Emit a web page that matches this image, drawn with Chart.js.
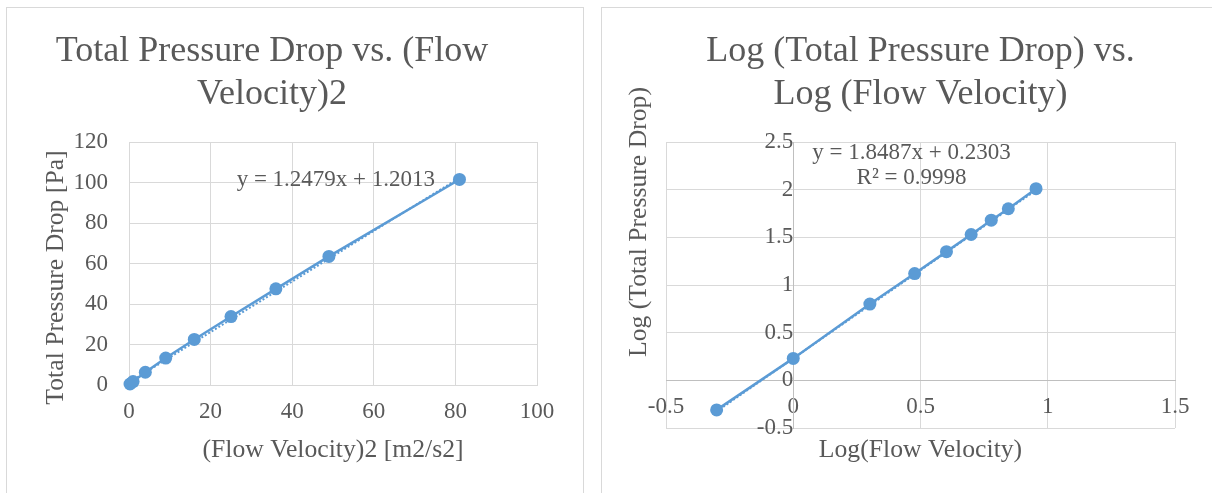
<!DOCTYPE html>
<html>
<head>
<meta charset="utf-8">
<script src="https://cdn.jsdelivr.net/npm/chart.js@4.4.1/dist/chart.umd.min.js"></script>
<style>
  html, body { margin: 0; padding: 0; background: #fff; overflow: hidden; width: 1212px; height: 493px; }
  .card { position: absolute; box-sizing: border-box; border: 1px solid #d9d9d9; }
  canvas { position: absolute; }
</style>
</head>
<body>
<div class="card" style="left:6px;top:7px;width:578px;height:540px"></div>
<div class="card" style="left:601px;top:7px;width:640px;height:540px"></div>
<canvas id="linChart" width="576" height="485" style="left:7px;top:8px"></canvas>
<canvas id="logChart" width="610" height="485" style="left:602px;top:8px"></canvas>
<script>
// velocity squared vs pressure drop (left chart)
const velSquared = [0.25, 1, 4, 9, 16, 25, 36, 49, 81];
const pressureDrop = [0.49, 1.7, 6.3, 13.3, 22.5, 33.8, 47.5, 63.5, 101.5];
const linTrendX = [0.25, 81];
const linTrendY = [1.51, 102.3];

// log-log values (right chart)
const logVelocity = [-0.301, 0, 0.301, 0.477, 0.602, 0.699, 0.778, 0.845, 0.954];
const logPressure = [-0.31, 0.23, 0.80, 1.12, 1.35, 1.53, 1.68, 1.80, 2.01];
const logTrendX = [-0.301, 0.954];
const logTrendY = [-0.326, 1.994];

const BLUE = '#5b9bd5';
const TEXT = '#595959';
const GRID = '#d9d9d9';
const SERIF = '"Liberation Serif", "Times New Roman", serif';

Chart.defaults.font.family = SERIF;
Chart.defaults.color = TEXT;

const toPoints = (xs, ys) => xs.map((x, i) => ({ x: x, y: ys[i] }));
// excel shows 2 and 1, not 2.0 and 1.0
const plainTick = v => String(Math.round(v * 10) / 10);

// draws axis titles and the trendline equation, Excel style
const excelText = {
    id: 'excelText',
    afterDraw(chart, args, opts) {
        const { ctx, chartArea: a, scales } = chart;
        ctx.save();
        ctx.fillStyle = TEXT;
        ctx.textAlign = 'center';
        ctx.textBaseline = 'middle';
        ctx.font = '25.7px ' + SERIF;
        ctx.fillText(opts.xTitle, (a.left + a.right) / 2, a.bottom + opts.xGap);

        ctx.save();
        ctx.translate(a.left - opts.yGap, (a.top + a.bottom) / 2 + opts.yShift);
        ctx.rotate(-Math.PI / 2);
        ctx.fillText(opts.yTitle, 0, 0);
        ctx.restore();

        ctx.font = '23px ' + SERIF;
        const ex = scales.x.getPixelForValue(opts.eqAt[0]);
        const ey = scales.y.getPixelForValue(opts.eqAt[1]);
        opts.equation.forEach((line, i) => ctx.fillText(line, ex, ey + i * 25));
        ctx.restore();
    }
};

function seriesSets(xs, ys, tx, ty) {
    return [{
        data: toPoints(xs, ys),
        showLine: true,
        clip: false,
        borderColor: BLUE,
        backgroundColor: BLUE,
        borderWidth: 2.5,
        pointRadius: 6.5,
        pointBorderWidth: 0
    }, {
        data: toPoints(tx, ty),
        showLine: true,
        borderColor: BLUE,
        borderWidth: 2,
        borderDash: [2, 2],
        pointRadius: 0
    }];
}

function titleOpts(lines) {
    return {
        display: true,
        text: lines,
        color: TEXT,
        font: { size: 36, weight: 'normal', lineHeight: 1.2 },
        padding: { top: 21.5, bottom: 26.1 }
    };
}

const tickFont = { size: 23, lineHeight: 1.2 };

new Chart(document.getElementById('linChart'), {
    type: 'scatter',
    data: { datasets: seriesSets(velSquared, pressureDrop, linTrendX, linTrendY) },
    options: {
        responsive: false,
        animation: false,
        layout: { padding: { left: 0, right: 46, top: 0, bottom: 0 } },
        plugins: {
            legend: { display: false },
            tooltip: { enabled: false },
            title: titleOpts(['Total Pressure Drop vs. (Flow', 'Velocity)2']),
            excelText: {
                xTitle: '(Flow Velocity)2 [m2/s2]', xGap: 65,
                yTitle: 'Total Pressure Drop [Pa]', yGap: 73, yShift: 14,
                equation: ['y = 1.2479x + 1.2013'], eqAt: [50.7, 101.2]
            }
        },
        scales: {
            x: {
                min: 0, max: 100,
                ticks: { stepSize: 20, padding: 13, font: tickFont, maxRotation: 0 },
                grid: { color: GRID, drawTicks: false },
                border: { color: GRID },
                afterFit: s => { s.height = 108; }
            },
            y: {
                min: 0, max: 120,
                ticks: { stepSize: 20, padding: 21, font: tickFont },
                grid: { color: GRID, drawTicks: false },
                border: { color: GRID },
                afterFit: s => { s.width = 122; }
            }
        }
    },
    plugins: [excelText]
});

new Chart(document.getElementById('logChart'), {
    type: 'scatter',
    data: { datasets: seriesSets(logVelocity, logPressure, logTrendX, logTrendY) },
    options: {
        responsive: false,
        animation: false,
        layout: { padding: { left: 64, right: 37, top: 0, bottom: 65 } },
        plugins: {
            legend: { display: false },
            tooltip: { enabled: false },
            title: titleOpts(['Log (Total Pressure Drop) vs.', 'Log (Flow Velocity)']),
            excelText: {
                xTitle: 'Log(Flow Velocity)', xGap: 22,
                yTitle: 'Log (Total Pressure Drop)', yGap: 27, yShift: -63,
                equation: ['y = 1.8487x + 0.2303', 'R\u00b2 = 0.9998'], eqAt: [0.465, 2.38]
            }
        },
        scales: {
            x: {
                min: -0.5, max: 1.5,
                position: { y: 0 },
                ticks: { stepSize: 0.5, padding: 13, font: tickFont, maxRotation: 0, callback: plainTick },
                grid: { color: GRID, drawTicks: false },
                border: { color: '#bfbfbf' }
            },
            y: {
                min: -0.5, max: 2.5,
                position: { x: 0 },
                ticks: { stepSize: 0.5, padding: 21, font: tickFont, callback: plainTick },
                grid: { color: GRID, drawTicks: false },
                border: { color: '#bfbfbf' }
            }
        }
    },
    plugins: [excelText]
});
</script>
</body>
</html>
